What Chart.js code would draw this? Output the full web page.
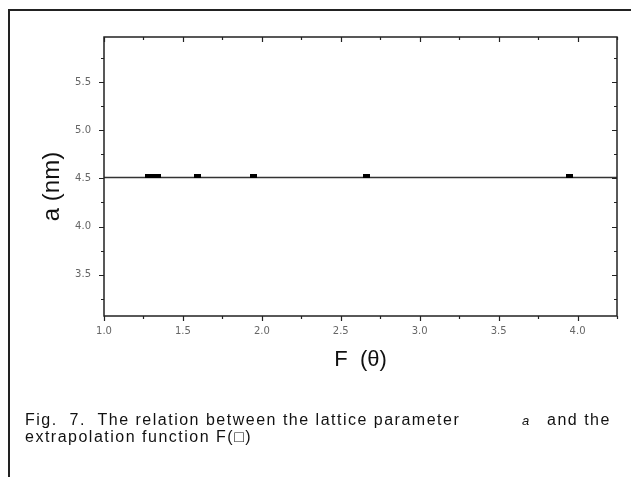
<!DOCTYPE html>
<html>
<head>
<meta charset="utf-8">
<script src="https://cdn.jsdelivr.net/npm/chart.js@4.4.0/dist/chart.umd.min.js"></script>
<style>
  html, body { margin: 0; padding: 0; background: #fff; }
  #wrap { position: relative; width: 631px; height: 477px; overflow: hidden; }
  #frame { position: absolute; left: 8px; top: 9px; width: 640px; height: 480px;
           border-top: 2px solid #222; border-left: 2px solid #222; }
  #chart { position: absolute; left: 0; top: 0; }
  .cap { position: absolute; font-family: "Liberation Sans", Arial, sans-serif; font-size: 16px;
         letter-spacing: 1.5px; color: #111; white-space: pre; line-height: 17px; }
</style>
</head>
<body>
<div id="wrap">
  <div id="frame"></div>
  <canvas id="chart" width="631" height="477"></canvas>
  <div class="cap" style="left:25px; top:411px;">Fig.  7.  The relation between the lattice parameter</div>
  <div class="cap" style="left:522px; top:412px; font-style:italic; font-size:13px; letter-spacing:0;">a</div>
  <div class="cap" style="left:547px; top:411px;">and the</div>
  <div class="cap" style="left:25px; top:428px;">extrapolation function F(□)</div>
</div>
<script>
var fTheta = [1.28, 1.31, 1.34, 1.59, 1.95, 2.66, 3.95];
var latticeA = [4.53, 4.53, 4.53, 4.53, 4.53, 4.53, 4.53];
// extrapolated straight line
var fitX = [1.0, 4.25];
var fitY = [4.51, 4.51];

var xMin = 1.0, xMax = 4.25, yMin = 3.07, yMax = 5.97;

// small flat black marker like in the scan
var marker = document.createElement('canvas');
marker.width = 7;
marker.height = 4;
var mctx = marker.getContext('2d');
mctx.fillStyle = '#000';
mctx.fillRect(0, 0, 7, 4);

function isStep(v, step) {
  return Math.abs(v / step - Math.round(v / step)) < 1e-6;
}

// box + inner/outer ticks (major 0.5, minor 0.25)
var frameTicks = {
  id: 'frameTicks',
  afterDraw: function (chart) {
    var ctx = chart.ctx;
    var a = chart.chartArea;
    var xs = chart.scales.x, ys = chart.scales.y;
    ctx.save();
    ctx.strokeStyle = '#222';
    ctx.lineWidth = 1.5;
    ctx.strokeRect(a.left, a.top, a.right - a.left, a.bottom - a.top);
    ctx.lineWidth = 1.2;
    ctx.beginPath();
    xs.ticks.forEach(function (t) {
      if (!isStep(t.value, 0.25)) return;
      var len = isStep(t.value, 0.5) ? 5 : 3;
      var px = Math.round(xs.getPixelForValue(t.value)) + 0.5;
      ctx.moveTo(px, a.bottom); ctx.lineTo(px, a.bottom + len);
      ctx.moveTo(px, a.top); ctx.lineTo(px, a.top + len);
    });
    ys.ticks.forEach(function (t) {
      if (!isStep(t.value, 0.25)) return;
      var len = isStep(t.value, 0.5) ? 5 : 3;
      var py = Math.round(ys.getPixelForValue(t.value)) + 0.5;
      ctx.moveTo(a.left, py); ctx.lineTo(a.left - len, py);
      ctx.moveTo(a.right, py); ctx.lineTo(a.right - len, py);
    });
    ctx.stroke();
    ctx.restore();
  }
};

var ctx = document.getElementById('chart').getContext('2d');
var myChart = new Chart(ctx, {
  type: 'scatter',
  data: {
    datasets: [{
      label: 'fit',
      data: fitX.map(function (x, i) { return { x: x, y: fitY[i] }; }),
      showLine: true,
      borderColor: '#333',
      borderWidth: 1.5,
      pointRadius: 0,
      order: 2
    }, {
      label: 'a',
      data: fTheta.map(function (x, i) { return { x: x, y: latticeA[i] }; }),
      pointStyle: marker,
      order: 1
    }]
  },
  options: {
    responsive: false,
    animation: false,
    layout: { padding: { left: 0, top: 37, right: 14, bottom: 91 } },
    plugins: { legend: { display: false }, tooltip: { enabled: false } },
    scales: {
      x: {
        type: 'linear',
        min: xMin, max: xMax,
        grid: { display: false, drawTicks: false },
        border: { display: false },
        afterFit: function (s) { s.height = 70; },
        ticks: {
          stepSize: 0.25,
          padding: 9,
          color: '#666',
          font: { family: 'DejaVu Sans', size: 10 },
          maxRotation: 0,
          autoSkip: false,
          callback: function (v) { return isStep(v, 0.5) && v <= 4.0 ? v.toFixed(1) : ''; }
        },
        title: {
          display: true,
          text: 'F  (θ)',
          color: '#111',
          font: { family: 'Liberation Sans', size: 22 },
          padding: { top: 0, bottom: 13 }
        }
      },
      y: {
        type: 'linear',
        min: yMin, max: yMax,
        grid: { display: false, drawTicks: false },
        border: { display: false },
        afterFit: function (s) { s.width = 104; },
        ticks: {
          stepSize: 0.25,
          padding: 13,
          color: '#666',
          font: { family: 'DejaVu Sans', size: 10 },
          autoSkip: false,
          callback: function (v) { return isStep(v, 0.5) ? v.toFixed(1) : ''; }
        },
        title: {
          display: true,
          text: 'a (nm)   ',
          color: '#111',
          font: { family: 'Liberation Sans', size: 24 },
          padding: { top: 38, bottom: 0 }
        }
      }
    }
  },
  plugins: [frameTicks]
});
</script>
</body>
</html>
